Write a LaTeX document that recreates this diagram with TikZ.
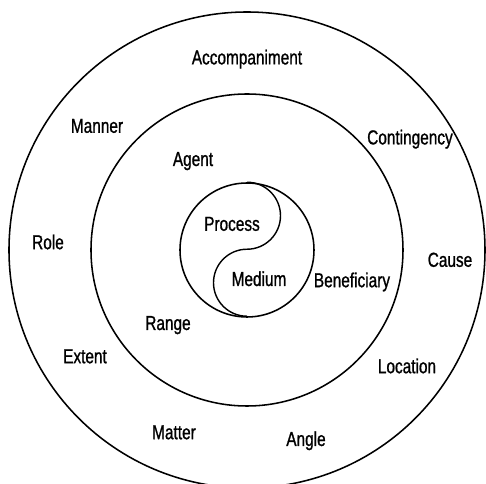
\documentclass[tikz,border=0pt]{standalone}
\usepackage{fontspec}
\setmainfont{Liberation Sans}[FakeStretch=0.76, FakeBold=1]
\usepackage{tikz}
\usetikzlibrary{positioning}

\begin{document}
\begin{tikzpicture}[
    ring/.style={circle, draw, line width=1.1pt, inner sep=0pt},
    term/.style={anchor=base, inner sep=0pt, font=\fontsize{14.4}{16}\selectfont}
]
\useasboundingbox (-6.175,-5.85) rectangle (5.975,6.25);
% three rings
\node[ring, minimum size=11.9cm] (outer) at (0,0) {};
\node[ring, minimum size=7.8cm] (middle) at (0,0) {};
\node[ring, minimum size=3.35cm] (core) at (0,0) {};
% S-curve splitting the core
\draw[line width=1pt] (core.north) arc[start angle=90, end angle=-90, radius=0.8375]
    arc[start angle=90, end angle=270, radius=0.8375];
% core
\node[term] (process) at (-0.375,0.48) {Process};
\node[term] (medium) at (0.3,-0.9) {Medium};
% middle ring
\node[term] (agent) at (-1.35,2.1) {Agent};
\node[term] (beneficiary) at (2.625,-0.93) {Beneficiary};
\node[term] (range) at (-1.975,-2.0) {Range};
% outer ring
\node[term] (accompaniment) at (0,4.64) {Accompaniment};
\node[term] (manner) at (-3.75,2.93) {Manner};
\node[term] (contingency) at (4.075,2.64) {Contingency};
\node[term] (role) at (-4.975,0.02) {Role};
\node[term] (cause) at (5.075,-0.42) {Cause};
\node[term] (extent) at (-4.05,-2.83) {Extent};
\node[term] (location) at (4.0,-3.08) {Location};
\node[term] (matter) at (-1.825,-4.73) {Matter};
\node[term] (angle) at (1.475,-4.9) {Angle};
\end{tikzpicture}
\end{document}
